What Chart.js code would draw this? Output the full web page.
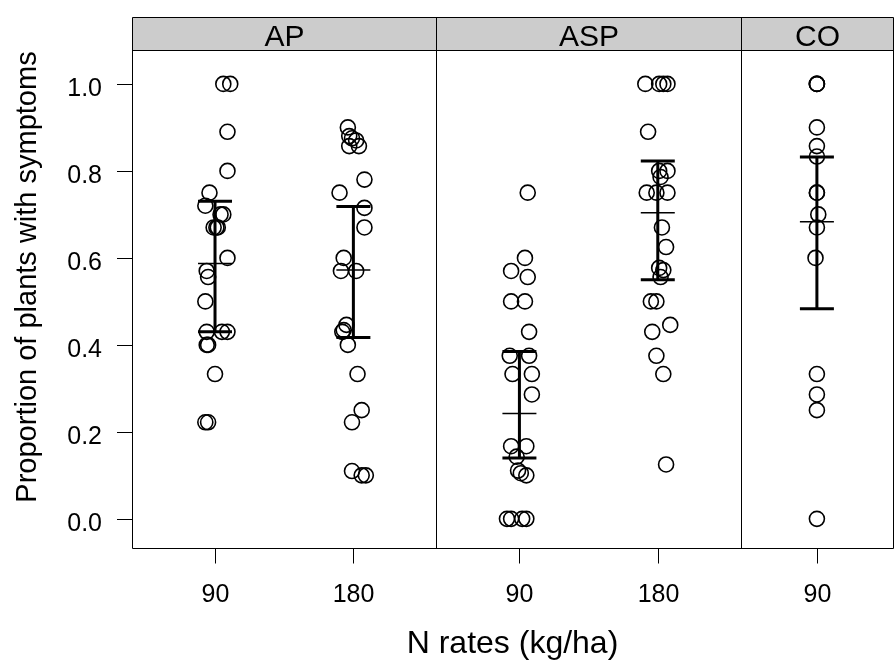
<!DOCTYPE html>
<html>
<head>
<meta charset="utf-8">
<script src="https://cdn.jsdelivr.net/npm/chart.js@4"></script>
<style>
  html, body { margin: 0; padding: 0; background: #fff; }
  #wrap { width: 895px; height: 660px; }
</style>
</head>
<body>
<div id="wrap"><canvas id="chart" width="895" height="660"></canvas></div>
<script>
// panels and the N rate inside each one
const panels = ["AP", "ASP", "CO"];
const panelEdges = [0, 2.2, 4.4, 5.5];
const groupPanel = ["AP", "AP", "ASP", "ASP", "CO"];
const groupRate = ["90", "180", "90", "180", "90"];
const groupX = [0.6, 1.6, 2.8, 3.8, 4.95];
const yTicks = [0, 0.2, 0.4, 0.6, 0.8, 1.0];

// observed proportions, with the horizontal jitter seen in the plot
const apLow = [1, 1, 0.89, 0.8, 0.75, 0.72, 0.7, 0.7, 0.67, 0.67, 0.67, 0.6, 0.57, 0.556, 0.5, 0.43, 0.43, 0.43, 0.4, 0.4, 0.333, 0.222, 0.222];
const apLowJit = [0.06, 0.11, 0.09, 0.09, -0.04, -0.07, 0.04, 0.06, -0.01, 0.01, 0.02, 0.09, -0.06, -0.05, -0.07, -0.06, 0.05, 0.09, -0.06, -0.05, 0, -0.07, -0.05];
const apHigh = [0.9, 0.88, 0.875, 0.87, 0.857, 0.857, 0.78, 0.75, 0.715, 0.67, 0.6, 0.57, 0.57, 0.446, 0.434, 0.43, 0.4, 0.333, 0.25, 0.222, 0.11, 0.1, 0.1];
const apHighJit = [-0.04, -0.03, -0.01, 0.02, 0.04, -0.03, 0.08, -0.10, 0.08, 0.08, -0.07, -0.09, 0.02, -0.05, -0.07, -0.08, -0.04, 0.03, 0.06, -0.01, -0.01, 0.06, 0.09];
const aspLow = [0.75, 0.6, 0.57, 0.556, 0.5, 0.5, 0.43, 0.375, 0.375, 0.333, 0.333, 0.286, 0.167, 0.167, 0.143, 0.111, 0.105, 0.1, 0, 0, 0, 0];
const aspLowJit = [0.06, 0.04, -0.06, 0.06, -0.06, 0.04, 0.07, -0.07, 0.07, -0.05, 0.09, 0.09, -0.06, 0.05, -0.02, -0.01, 0.01, 0.05, -0.09, -0.06, 0.02, 0.05];
const aspHigh = [1, 1, 1, 1, 0.89, 0.8, 0.8, 0.786, 0.75, 0.75, 0.75, 0.67, 0.625, 0.577, 0.572, 0.556, 0.5, 0.5, 0.446, 0.43, 0.375, 0.333, 0.125];
const aspHighJit = [-0.09, 0.01, 0.04, 0.07, -0.07, 0.01, 0.07, 0.02, -0.08, -0.01, 0.07, 0.03, 0.06, 0.01, 0.04, 0.02, -0.05, -0.01, 0.09, -0.04, -0.01, 0.04, 0.06];
const coLow = [1, 1, 1, 0.9, 0.857, 0.833, 0.75, 0.75, 0.7, 0.67, 0.6, 0.333, 0.286, 0.25, 0];
const coLowJit = [0, 0, 0, 0, 0, 0, 0, 0, 0.01, 0, -0.01, 0, 0, 0, 0];

// mean and interval drawn over each group
const groupMean = [0.587, 0.572, 0.242, 0.704, 0.683];
const groupLower = [0.43, 0.417, 0.14, 0.55, 0.483];
const groupUpper = [0.73, 0.718, 0.385, 0.823, 0.832];

const groupValues = [apLow, apHigh, aspLow, aspHigh, coLow];
const groupJitter = [apLowJit, apHighJit, aspLowJit, aspHighJit, coLowJit];

const FONT = "'Liberation Sans', Arial, sans-serif";

const datasets = groupValues.map((vals, g) => ({
  label: groupPanel[g] + " " + groupRate[g],
  data: vals.map((v, i) => ({ x: groupX[g] + groupJitter[g][i], y: v })),
  pointStyle: "circle",
  pointRadius: 7.5,
  pointHoverRadius: 7.5,
  borderColor: "#000",
  borderWidth: 1.6,
  backgroundColor: "rgba(0,0,0,0)"
}));

const latticePlugin = {
  id: "lattice",
  afterDatasetsDraw(chart) {
    const ctx = chart.ctx;
    const a = chart.chartArea;
    const xs = chart.scales.x, ys = chart.scales.y;
    const stripH = 33;
    const top = Math.round(a.top) + 0.5, bottom = Math.round(a.bottom) + 0.5;
    const edges = panelEdges.map(e => Math.round(xs.getPixelForValue(e)) + 0.5);
    ctx.save();

    // error bars
    ctx.strokeStyle = "#000";
    groupX.forEach((gx, g) => {
      const cx = xs.getPixelForValue(gx);
      const yt = ys.getPixelForValue(groupUpper[g]);
      const yb = ys.getPixelForValue(groupLower[g]);
      const ym = ys.getPixelForValue(groupMean[g]);
      ctx.lineWidth = 3;
      ctx.beginPath();
      ctx.moveTo(cx, yt); ctx.lineTo(cx, yb);
      ctx.moveTo(cx - 17, yt); ctx.lineTo(cx + 17, yt);
      ctx.moveTo(cx - 17, yb); ctx.lineTo(cx + 17, yb);
      ctx.stroke();
      ctx.lineWidth = 1.5;
      ctx.beginPath();
      ctx.moveTo(cx - 17, ym); ctx.lineTo(cx + 17, ym);
      ctx.stroke();
    });

    // strips
    ctx.lineWidth = 1;
    ctx.fillStyle = "#cccccc";
    ctx.fillRect(edges[0], top - stripH, edges[3] - edges[0], stripH);
    ctx.fillStyle = "#000";
    ctx.font = "30px " + FONT;
    ctx.textAlign = "center";
    ctx.textBaseline = "alphabetic";
    panels.forEach((p, i) => {
      ctx.fillText(p, (edges[i] + edges[i + 1]) / 2, top - 5);
    });

    // frame and panel dividers
    ctx.beginPath();
    ctx.rect(edges[0], top - stripH, edges[3] - edges[0], bottom - top + stripH);
    ctx.moveTo(edges[0], top); ctx.lineTo(edges[3], top);
    for (let i = 1; i < 3; i++) {
      ctx.moveTo(edges[i], top - stripH); ctx.lineTo(edges[i], bottom);
    }
    ctx.stroke();

    // y axis
    ctx.font = "25px " + FONT;
    ctx.textAlign = "right";
    yTicks.forEach(t => {
      const y = Math.round(ys.getPixelForValue(t)) + 0.5;
      ctx.beginPath();
      ctx.moveTo(a.left - 15, y); ctx.lineTo(a.left, y);
      ctx.stroke();
      ctx.fillText(t.toFixed(1), a.left - 30, y + 11);
    });

    // x axis
    ctx.textAlign = "center";
    groupX.forEach((gx, g) => {
      const x = Math.round(xs.getPixelForValue(gx)) + 0.5;
      ctx.beginPath();
      ctx.moveTo(x, bottom); ctx.lineTo(x, bottom + 15);
      ctx.stroke();
      ctx.fillText(groupRate[g], x, a.bottom + 54);
    });

    // titles
    ctx.font = "32px " + FONT;
    ctx.fillText("N rates (kg/ha)", (a.left + a.right) / 2, 653);
    ctx.font = "29px " + FONT;
    ctx.textBaseline = "middle";
    ctx.translate(28, 277);
    ctx.rotate(-Math.PI / 2);
    ctx.fillText("Proportion of plants with symptoms", 0, 0);
    ctx.restore();
  }
};

new Chart(document.getElementById("chart"), {
  type: "scatter",
  data: { datasets },
  options: {
    responsive: false,
    animation: false,
    layout: { autoPadding: false, padding: { left: 132, right: 2, top: 50, bottom: 112 } },
    plugins: { legend: { display: false }, tooltip: { enabled: false } },
    scales: {
      x: { type: "linear", display: false, min: 0, max: 5.5 },
      y: { type: "linear", display: false, min: -0.067, max: 1.078 }
    }
  },
  plugins: [latticePlugin]
});
</script>
</body>
</html>
